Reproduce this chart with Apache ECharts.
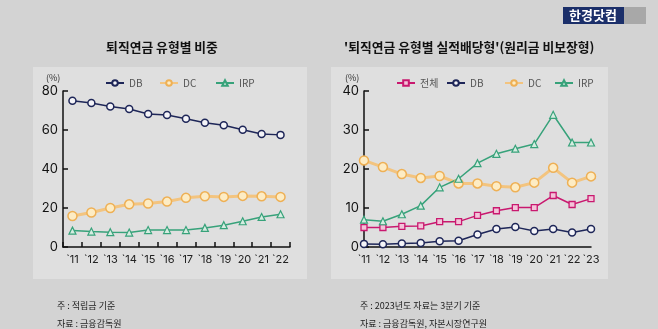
<!DOCTYPE html>
<html><head><meta charset="utf-8">
<script src="https://cdn.jsdelivr.net/npm/echarts@6/dist/echarts.min.js"></script>
<style>html,body{margin:0;padding:0;background:#d3d3d3;}#c{width:658px;height:329px;}</style>
</head><body><div id="c"></div>
<script>
const leftYears = ["`11","`12","`13","`14","`15","`16","`17","`18","`19","`20","`21","`22"];
const leftDB  = [75.0,73.8,72.1,70.8,68.2,67.7,65.8,63.7,62.4,60.1,57.9,57.5];
const leftDC  = [15.9,17.7,20.0,21.9,22.3,23.3,25.2,26.0,25.7,26.2,26.0,25.7];
const leftIRP = [8.4,7.9,7.6,7.4,8.7,8.7,8.7,9.8,11.2,13.2,15.4,16.8];

const rightYears = ["`11","`12","`13","`14","`15","`16","`17","`18","`19","`20","`21","`22","`23"];
const rightTotal = [5.0,5.0,5.3,5.4,6.5,6.5,8.1,9.3,10.1,10.1,13.2,10.9,12.4];
const rightDB    = [0.8,0.7,0.9,1.0,1.5,1.6,3.2,4.6,5.1,4.1,4.6,3.7,4.6];
const rightDC    = [22.2,20.5,18.7,17.7,18.2,16.3,16.3,15.6,15.3,16.5,20.3,16.5,18.1];
const rightIRP   = [7.0,6.6,8.4,10.6,15.3,17.5,21.5,23.9,25.2,26.4,33.9,26.8,26.8];

const leftYTicks = [0,20,40,60,80];
const rightYTicks = [0,10,20,30,40];

const NAVY='#1e2658', ORANGE='#eeb055', GREEN='#37a27a', PINK='#c9186f';
const font='"Noto Sans CJK KR","Noto Sans",sans-serif';

const chart = echarts.init(document.getElementById('c'));
function yAx(idx, ticks){
  return {gridIndex:idx, type:'value', min:ticks[0], max:ticks[ticks.length-1], interval:ticks[1]-ticks[0],
    axisLine:{show:true,lineStyle:{color:'#111',width:1.5}},
    axisTick:{show:true,inside:true,length:5,lineStyle:{color:'#111',width:1.5}},
    axisLabel:{color:'#111',fontSize:13,margin:5,fontFamily:'Inter,Roboto,sans-serif'},
    splitLine:{show:false}};
}
function legend(name, left){
  return {data:[name], left:left, top:73, itemWidth:18, itemHeight:7, itemGap:5,
    textStyle:{color:'#555',fontSize:10,fontFamily:font}, selectedMode:false};
}
const opt = {
  backgroundColor:'#d3d3d3',
  animation:false,
  graphic:[
    {type:'rect',shape:{x:33,y:67,width:274,height:212},style:{fill:'#dfdfdf'},z:-10},
    {type:'rect',shape:{x:331,y:67,width:277,height:212},style:{fill:'#dfdfdf'},z:-10},
    {type:'rect',shape:{x:563,y:7,width:61,height:17},style:{fill:'#1b2f6a'}},
    {type:'rect',shape:{x:624,y:7,width:22,height:17},style:{fill:'#a8a8a8'}},
    {type:'text',x:593,y:15.5,style:{text:'한경닷컴',fill:'#fff',fontSize:13,fontWeight:'bold',fontFamily:font,align:'center',verticalAlign:'middle'}},
    {type:'text',x:162,y:47,style:{text:'퇴직연금 유형별 비중',fill:'#111',fontSize:12.8,fontWeight:'bold',fontFamily:font,align:'center',verticalAlign:'middle'}},
    {type:'text',x:344,y:47,style:{text:"'퇴직연금 유형별 실적배당형'(원리금 비보장형)",fill:'#111',fontSize:12.8,fontWeight:'bold',fontFamily:font,align:'left',verticalAlign:'middle'}},
    {type:'text',x:46,y:78,style:{text:'(%)',fill:'#333',fontSize:9,fontFamily:font,align:'left',verticalAlign:'middle'}},
    {type:'text',x:345,y:78,style:{text:'(%)',fill:'#333',fontSize:9,fontFamily:font,align:'left',verticalAlign:'middle'}},
    {type:'text',x:57,y:306,style:{text:'주 : 적립금 기준',fill:'#222',fontSize:9,fontFamily:font,align:'left',verticalAlign:'middle'}},
    {type:'text',x:57,y:324,style:{text:'자료 : 금융감독원',fill:'#222',fontSize:9,fontFamily:font,align:'left',verticalAlign:'middle'}},
    {type:'text',x:360,y:306,style:{text:'주 : 2023년도 자료는 3분기 기준',fill:'#222',fontSize:9,fontFamily:font,align:'left',verticalAlign:'middle'}},
    {type:'text',x:360,y:324,style:{text:'자료 : 금융감독원, 자본시장연구원',fill:'#222',fontSize:9,fontFamily:font,align:'left',verticalAlign:'middle'}}
  ],
  legend:[legend('DB',100),legend('DC',154),legend('IRP',210),
          legend('전체',391),legend('DB ',441),legend('DC ',499),legend('IRP ',549)],
  grid:[{left:63,right:368,top:91,bottom:82},{left:364,right:67,top:91,bottom:82}],
  xAxis:[
    {gridIndex:0,type:'category',data:leftYears,boundaryGap:true,
     axisLine:{lineStyle:{color:'#111',width:1.5}},
     axisTick:{show:true,inside:true,length:5,interval:0,lineStyle:{color:'#111',width:1.5}},
     axisLabel:{color:'#222',fontSize:11,margin:7,interval:0,fontFamily:'Inter,Roboto,sans-serif'}},
    {gridIndex:1,type:'category',data:rightYears,boundaryGap:false,
     axisLine:{lineStyle:{color:'#111',width:1.5}},
     axisTick:{show:false},
     axisLabel:{color:'#222',fontSize:11,margin:7,interval:0,fontFamily:'Inter,Roboto,sans-serif'}}
  ],
  yAxis:[yAx(0,leftYTicks),yAx(1,rightYTicks)],
  series:[
    {name:'DB',type:'line',xAxisIndex:0,yAxisIndex:0,data:leftDB,symbol:'circle',symbolSize:7,
     lineStyle:{color:NAVY,width:1.5},itemStyle:{color:'#f4f4f8',borderColor:NAVY,borderWidth:1.5}},
    {name:'DC',type:'line',xAxisIndex:0,yAxisIndex:0,data:leftDC,symbol:'circle',symbolSize:9,
     lineStyle:{color:'#f3c47f',width:3},itemStyle:{color:'#fdecc4',borderColor:ORANGE,borderWidth:1.5}},
    {name:'IRP',type:'line',xAxisIndex:0,yAxisIndex:0,data:leftIRP,symbol:'triangle',symbolSize:7,
     lineStyle:{color:GREEN,width:1.5},itemStyle:{color:'#d6ece1',borderColor:GREEN,borderWidth:1.2}},
    {name:'전체',type:'line',xAxisIndex:1,yAxisIndex:1,data:rightTotal,symbol:'rect',symbolSize:6,
     lineStyle:{color:PINK,width:1.5},itemStyle:{color:'#f3c3d9',borderColor:PINK,borderWidth:1.3}},
    {name:'DB ',type:'line',xAxisIndex:1,yAxisIndex:1,data:rightDB,symbol:'circle',symbolSize:7,
     lineStyle:{color:NAVY,width:1.5},itemStyle:{color:'#f4f4f8',borderColor:NAVY,borderWidth:1.5}},
    {name:'DC ',type:'line',xAxisIndex:1,yAxisIndex:1,data:rightDC,symbol:'circle',symbolSize:9,
     lineStyle:{color:'#f3c47f',width:3},itemStyle:{color:'#fdecc4',borderColor:ORANGE,borderWidth:1.5}},
    {name:'IRP ',type:'line',xAxisIndex:1,yAxisIndex:1,data:rightIRP,symbol:'triangle',symbolSize:7,
     lineStyle:{color:GREEN,width:1.5},itemStyle:{color:'#d6ece1',borderColor:GREEN,borderWidth:1.2}}
  ]
};
chart.setOption(opt);
</script></body></html>
